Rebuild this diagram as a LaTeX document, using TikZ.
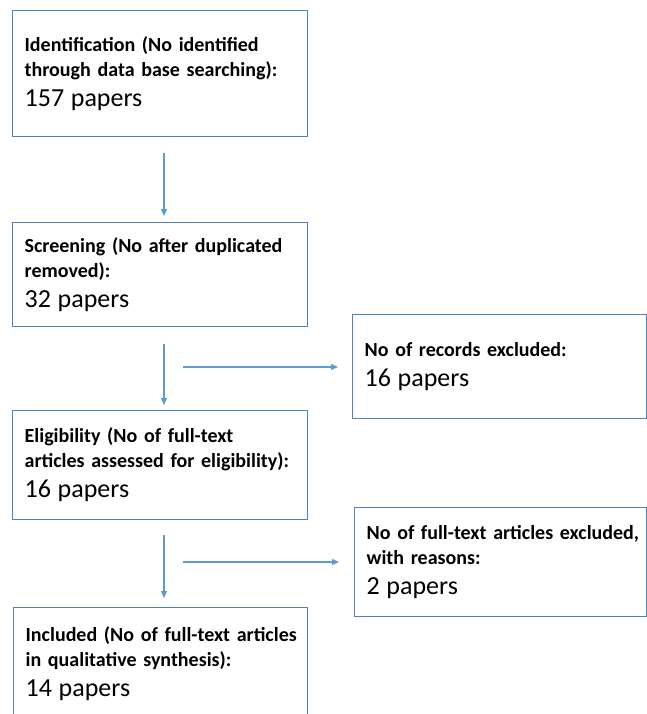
\documentclass[tikz,border=0pt]{standalone}
\usepackage{fontspec}
\setmainfont{Carlito}
\usetikzlibrary{arrows.meta}
\definecolor{boxblue}{RGB}{79,129,189}
\definecolor{arrblue}{RGB}{91,155,213}
\newcommand{\lbl}[1]{\mbox{\bfseries #1}}
\newcommand{\num}[1]{\mbox{\fontsize{26}{25}\selectfont #1}}
\begin{document}
\begin{tikzpicture}[x=1pt,y=-1pt,
  pbox/.style={draw=boxblue,line width=1.3pt,anchor=north west,align=left,inner xsep=12pt,inner ysep=0pt,font=\fontsize{20}{25}\selectfont},
  arr/.style={draw=arrblue,line width=1.2pt,-{Triangle[length=7pt,width=6pt]}}]
\useasboundingbox (0,0) rectangle (647,714);
\fill[white] (0,0) rectangle (647,714);
\begin{scope}
\clip (0,0) rectangle (647,714);
\node[pbox,text width=271pt,minimum height=126pt] (b1) at (12,10)
  {\lbl{Identification (No identified}\\\lbl{through data base searching):}\\[5pt]\num{157 papers}};
\node[pbox,text width=271pt,minimum height=104pt] (b2) at (12,222)
  {\lbl{Screening (No after duplicated}\\\lbl{removed):}\\[5pt]\num{32 papers}};
\node[pbox,text width=270pt,minimum height=104pt] (b3) at (352,314)
  {\lbl{No of records excluded:}\\[5pt]\num{16 papers}};
\node[pbox,text width=271pt,minimum height=109pt] (b4) at (12,410)
  {\lbl{Eligibility (No of full-text}\\\lbl{articles assessed for eligibility):}\\[5pt]\num{16 papers}};
\node[pbox,text width=268pt,minimum height=109pt] (b5) at (354,507)
  {\lbl{No of full-text articles excluded,}\\\lbl{with reasons:}\\[5pt]\num{2 papers}};
\node[pbox,text width=270pt,minimum height=112pt] (b6) at (13,607)
  {\lbl{Included (No of full-text articles}\\\lbl{in qualitative synthesis):}\\[5pt]\num{14 papers}};
\coordinate (vx) at (164,0);
\coordinate (h1) at (183,367);
\coordinate (h2) at (183,562);
\draw[arr,shorten <=16pt,shorten >=6pt] (b1.south -| vx) -- (b2.north -| vx);
\draw[arr,shorten <=17pt,shorten >=5pt] (b2.south -| vx) -- (b4.north -| vx);
\draw[arr,shorten <=15pt,shorten >=9pt] (b4.south -| vx) -- (b6.north -| vx);
\draw[arr,shorten >=14pt] (h1) -- (h1 -| b3.west);
\draw[arr,shorten >=15pt] (h2) -- (h2 -| b5.west);
\end{scope}
\end{tikzpicture}
\end{document}
